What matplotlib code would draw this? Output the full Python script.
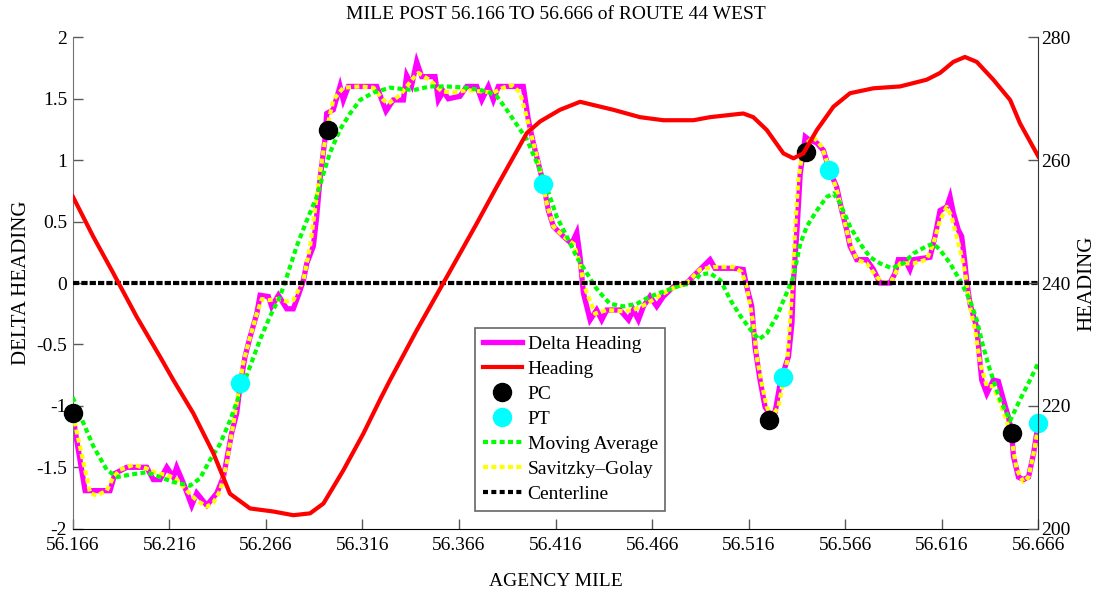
import numpy as np
import matplotlib
matplotlib.use("Agg")
import matplotlib.pyplot as plt
from matplotlib.lines import Line2D

plt.rcParams["font.family"] = ["Liberation Serif", "DejaVu Serif"]
plt.rcParams["axes.unicode_minus"] = False

# delta heading (raw)
dh_mile = [56.1660, 56.1672, 56.1724, 56.1853, 56.1879, 56.1940, 56.2043, 56.2077, 56.2112, 56.2147,
           56.2181, 56.2198, 56.2233, 56.2276, 56.2302, 56.2354, 56.2406, 56.2440, 56.2457, 56.2483,
           56.2509, 56.2526, 56.2552, 56.2578, 56.2613, 56.2630, 56.2673, 56.2690, 56.2725, 56.2768,
           56.2802, 56.2828, 56.2854, 56.2872, 56.2906, 56.2923, 56.2940, 56.2966, 56.2975, 56.3009,
           56.3044, 56.3061, 56.3087, 56.3234, 56.3282, 56.3320, 56.3372, 56.3389, 56.3415, 56.3441,
           56.3467, 56.3536, 56.3553, 56.3579, 56.3605, 56.3665, 56.3700, 56.3752, 56.3778, 56.3812,
           56.3838, 56.3864, 56.3993, 56.4019, 56.4045, 56.4080, 56.4097, 56.4123, 56.4149, 56.4200,
           56.4244, 56.4270, 56.4287, 56.4304, 56.4339, 56.4373, 56.4399, 56.4425, 56.4494, 56.4538,
           56.4563, 56.4589, 56.4615, 56.4649, 56.4684, 56.4718, 56.4770, 56.4839, 56.4908, 56.4960,
           56.4986, 56.5081, 56.5132, 56.5150, 56.5176, 56.5193, 56.5219, 56.5245, 56.5271, 56.5297,
           56.5323, 56.5349, 56.5366, 56.5384, 56.5392, 56.5410, 56.5427, 56.5453, 56.5469, 56.5513,
           56.5547, 56.5578, 56.5616, 56.5642, 56.5668, 56.5685, 56.5720, 56.5771, 56.5806, 56.5840,
           56.5892, 56.5918, 56.5935, 56.5970, 56.5995, 56.6013, 56.6099, 56.6125, 56.6151, 56.6186,
           56.6203, 56.6220, 56.6246, 56.6263, 56.6280, 56.6289, 56.6306, 56.6341, 56.6358, 56.6367,
           56.6393, 56.6427, 56.6453, 56.6479, 56.6505, 56.6522, 56.6531, 56.6557, 56.6583, 56.6609,
           56.6635, 56.6660]
dh_val = [-1.06, -1.20, -1.69, -1.69, -1.55, -1.50, -1.50, -1.60, -1.60, -1.50,
          -1.58, -1.50, -1.63, -1.81, -1.71, -1.81, -1.71, -1.58, -1.44, -1.22,
          -1.06, -0.84, -0.60, -0.44, -0.25, -0.10, -0.11, -0.19, -0.10, -0.21,
          -0.21, -0.10, 0.02, 0.16, 0.30, 0.54, 0.84, 1.17, 1.38, 1.41,
          1.60, 1.49, 1.60, 1.60, 1.40, 1.49, 1.49, 1.69, 1.61, 1.80,
          1.68, 1.68, 1.49, 1.56, 1.50, 1.52, 1.60, 1.60, 1.49, 1.60,
          1.49, 1.60, 1.60, 1.33, 1.14, 0.92, 0.81, 0.59, 0.46, 0.38,
          0.32, 0.41, 0.21, -0.08, -0.30, -0.22, -0.30, -0.22, -0.22, -0.30,
          -0.22, -0.30, -0.19, -0.11, -0.19, -0.11, -0.03, 0.00, 0.11, 0.19,
          0.12, 0.12, 0.11, -0.03, -0.19, -0.52, -0.79, -1.01, -1.07, -1.05,
          -0.82, -0.68, -0.60, -0.33, 0.02, 0.43, 0.89, 1.19, 1.17, 1.14,
          1.08, 0.92, 0.78, 0.59, 0.43, 0.30, 0.19, 0.19, 0.11, 0.00,
          0.00, 0.08, 0.19, 0.19, 0.11, 0.19, 0.21, 0.38, 0.59, 0.62,
          0.70, 0.57, 0.43, 0.38, 0.16, 0.02, -0.17, -0.36, -0.65, -0.79,
          -0.90, -0.79, -0.80, -0.95, -1.09, -1.22, -1.41, -1.58, -1.60, -1.58,
          -1.39, -1.14]

# Savitzky-Golay
sg_mile = [56.1660, 56.1750, 56.1784, 56.1836, 56.1870, 56.1905, 56.1974, 56.2043, 56.2095, 56.2147,
           56.2199, 56.2250, 56.2302, 56.2354, 56.2388, 56.2423, 56.2457, 56.2492, 56.2517, 56.2543,
           56.2578, 56.2613, 56.2639, 56.2673, 56.2716, 56.2768, 56.2802, 56.2837, 56.2854, 56.2889,
           56.2923, 56.2949, 56.2975, 56.3009, 56.3061, 56.3148, 56.3217, 56.3268, 56.3294, 56.3355,
           56.3424, 56.3450, 56.3510, 56.3571, 56.3631, 56.3700, 56.3769, 56.3838, 56.3890, 56.3933,
           56.3976, 56.4011, 56.4045, 56.4080, 56.4114, 56.4149, 56.4200, 56.4252, 56.4287, 56.4304,
           56.4322, 56.4365, 56.4425, 56.4511, 56.4563, 56.4632, 56.4701, 56.4770, 56.4839, 56.4908,
           56.4977, 56.5081, 56.5124, 56.5150, 56.5184, 56.5202, 56.5228, 56.5254, 56.5279, 56.5314,
           56.5340, 56.5360, 56.5374, 56.5388, 56.5400, 56.5417, 56.5443, 56.5495, 56.5538, 56.5581,
           56.5616, 56.5650, 56.5685, 56.5720, 56.5771, 56.5823, 56.5857, 56.5901, 56.5944, 56.6013,
           56.6082, 56.6116, 56.6151, 56.6186, 56.6211, 56.6237, 56.6272, 56.6289, 56.6306, 56.6332,
           56.6358, 56.6393, 56.6427, 56.6462, 56.6496, 56.6522, 56.6548, 56.6583, 56.6609, 56.6635,
           56.6660]
sg_val = [-1.06, -1.71, -1.73, -1.69, -1.58, -1.52, -1.48, -1.51, -1.55, -1.56,
          -1.60, -1.69, -1.77, -1.82, -1.79, -1.69, -1.47, -1.14, -0.90, -0.65,
          -0.44, -0.25, -0.13, -0.14, -0.13, -0.15, -0.14, -0.03, 0.02, 0.30,
          0.70, 0.98, 1.25, 1.49, 1.59, 1.60, 1.59, 1.49, 1.46, 1.53,
          1.67, 1.71, 1.65, 1.56, 1.55, 1.57, 1.56, 1.55, 1.59, 1.61,
          1.55, 1.35, 1.14, 0.92, 0.65, 0.46, 0.38, 0.32, 0.16, 0.00,
          -0.08, -0.25, -0.22, -0.23, -0.22, -0.17, -0.10, -0.04, 0.00, 0.11,
          0.13, 0.13, 0.09, -0.03, -0.33, -0.60, -0.82, -1.01, -1.09, -1.01,
          -0.79, -0.63, -0.30, 0.02, 0.43, 0.84, 1.11, 1.19, 1.11, 0.92,
          0.76, 0.54, 0.32, 0.19, 0.16, 0.05, 0.00, 0.02, 0.16, 0.16,
          0.19, 0.32, 0.51, 0.62, 0.54, 0.38, 0.16, 0.00, -0.19, -0.38,
          -0.65, -0.84, -0.84, -0.98, -1.12, -1.28, -1.52, -1.62, -1.58, -1.39,
          -1.17]

# moving average
ma_mile = [56.1660, 56.1715, 56.1767, 56.1836, 56.1888, 56.1957, 56.2043, 56.2112, 56.2181, 56.2267,
           56.2319, 56.2371, 56.2423, 56.2474, 56.2526, 56.2578, 56.2630, 56.2682, 56.2733, 56.2768,
           56.2820, 56.2872, 56.2923, 56.2958, 56.2992, 56.3044, 56.3096, 56.3148, 56.3217, 56.3303,
           56.3424, 56.3510, 56.3597, 56.3700, 56.3804, 56.3856, 56.3907, 56.3959, 56.4011, 56.4063,
           56.4114, 56.4166, 56.4218, 56.4270, 56.4322, 56.4365, 56.4390, 56.4442, 56.4511, 56.4580,
           56.4649, 56.4736, 56.4805, 56.4874, 56.4908, 56.4960, 56.5015, 56.5066, 56.5118, 56.5170,
           56.5213, 56.5254, 56.5306, 56.5357, 56.5392, 56.5427, 56.5461, 56.5513, 56.5564, 56.5599,
           56.5633, 56.5685, 56.5737, 56.5789, 56.5840, 56.5901, 56.5961, 56.6013, 56.6082, 56.6116,
           56.6151, 56.6203, 56.6255, 56.6306, 56.6341, 56.6375, 56.6410, 56.6462, 56.6514, 56.6565,
           56.6617, 56.6660]
ma_val = [-0.93, -1.14, -1.33, -1.52, -1.58, -1.56, -1.54, -1.58, -1.62, -1.65,
          -1.59, -1.44, -1.31, -1.12, -0.90, -0.68, -0.46, -0.27, -0.11, 0.05,
          0.30, 0.51, 0.70, 0.89, 1.06, 1.25, 1.38, 1.49, 1.55, 1.59,
          1.57, 1.60, 1.60, 1.59, 1.56, 1.52, 1.41, 1.29, 1.17, 0.98,
          0.78, 0.54, 0.38, 0.21, 0.08, -0.03, -0.08, -0.17, -0.19, -0.17,
          -0.11, -0.06, -0.02, 0.00, 0.07, 0.08, 0.02, -0.14, -0.27, -0.38,
          -0.46, -0.41, -0.27, -0.08, 0.05, 0.32, 0.46, 0.59, 0.70, 0.73,
          0.65, 0.46, 0.32, 0.21, 0.16, 0.12, 0.16, 0.24, 0.30, 0.32,
          0.27, 0.16, 0.02, -0.14, -0.30, -0.52, -0.71, -0.95, -1.12, -0.95,
          -0.79, -0.65]

# heading (right axis, degrees)
hd_mile = [56.1660, 56.1767, 56.1870, 56.1991, 56.2112, 56.2181, 56.2284, 56.2388, 56.2474, 56.2578,
           56.2699, 56.2802, 56.2889, 56.2958, 56.3061, 56.3165, 56.3251, 56.3303, 56.3441, 56.3588,
           56.3752, 56.3856, 56.4011, 56.4080, 56.4183, 56.4287, 56.4459, 56.4597, 56.4718, 56.4874,
           56.4960, 56.5132, 56.5184, 56.5254, 56.5340, 56.5392, 56.5443, 56.5513, 56.5599, 56.5685,
           56.5806, 56.5944, 56.6082, 56.6151, 56.6220, 56.6280, 56.6341, 56.6427, 56.6514, 56.6565,
           56.6660]
hd_val = [254.1, 247.5, 241.6, 234.5, 228.0, 224.2, 218.8, 212.3, 205.7, 203.3,
          202.8, 202.2, 202.5, 204.1, 209.5, 215.5, 221.0, 224.2, 232.3, 240.5,
          249.7, 255.7, 264.4, 266.3, 268.2, 269.5, 268.2, 267.0, 266.5, 266.5,
          267.0, 267.6, 267.0, 264.9, 261.1, 260.3, 261.1, 264.9, 268.7, 270.9,
          271.7, 272.0, 273.1, 274.2, 276.0, 276.8, 276.0, 273.1, 269.8, 266.0,
          260.6]

pc_mile = [56.1660, 56.2984, 56.5266, 56.5457, 56.6522]
pc_val = [-1.06, 1.246, -1.116, 1.069, -1.224]
pt_mile = [56.2526, 56.4097, 56.5336, 56.5578, 56.6660]
pt_val = [-0.812, 0.806, -0.768, 0.92, -1.138]

xticks = [56.166 + 0.05 * i for i in range(11)]
xlabels = ["%.3f" % t for t in xticks]

fig = plt.figure(figsize=(10.99, 5.95), dpi=100)
ax = fig.add_axes([0.0662, 0.1114, 0.8786, 0.8259])
ax2 = ax.twinx()

dot = (0, (1.2, 0.8))
ax.plot(dh_mile, dh_val, color="#ff00ff", lw=3.8, zorder=2, solid_joinstyle="miter")
ax.plot(sg_mile, sg_val, color="#ffff00", lw=3, ls=dot, zorder=3)
ax.plot(ma_mile, ma_val, color="#00ff00", lw=3, ls=dot, zorder=4)
ax.plot([56.166, 56.666], [0, 0], color="black", lw=3, ls=(0, (1.5, 0.5)), zorder=5)
ax.plot(pc_mile, pc_val, "o", color="black", ms=13, zorder=6, clip_on=False)
ax.plot(pt_mile, pt_val, "o", color="#00ffff", ms=13, zorder=6, clip_on=False)

ax2.plot(hd_mile, hd_val, color="#ff0000", lw=3)

ax.set_xlim(56.166, 56.666)
ax.set_ylim(-2, 2)
ax2.set_ylim(200, 280)
ax.set_xticks(xticks)
ax.set_xticklabels(xlabels)
ax.set_yticks([-2, -1.5, -1, -0.5, 0, 0.5, 1, 1.5, 2])
ax.set_yticklabels(["-2", "-1.5", "-1", "-0.5", "0", "0.5", "1", "1.5", "2"])
ax2.set_yticks([200, 220, 240, 260, 280])

for a in (ax, ax2):
    a.spines["top"].set_visible(False)
    a.tick_params(direction="in", length=7, width=1, labelsize=14, colors="0.35", labelcolor="black")
ax.spines["right"].set_visible(False)
ax.spines["left"].set_color("0.45")
ax.spines["bottom"].set_color("black")
ax2.spines["left"].set_visible(False)
ax2.spines["bottom"].set_visible(False)
ax2.spines["right"].set_color("0.2")
ax.tick_params(axis="x", pad=6)
ax.tick_params(axis="y", pad=4)
ax2.tick_params(axis="y", pad=2)

ax.set_title("MILE POST 56.166 TO 56.666 of ROUTE 44 WEST", fontsize=14, pad=13)
ax.set_xlabel("AGENCY MILE", fontsize=14, labelpad=14)
ax.set_ylabel("DELTA HEADING", fontsize=15, labelpad=4)
ax2.set_ylabel("HEADING", fontsize=15, labelpad=5)

handles = [
    Line2D([], [], color="#ff00ff", lw=3.8),
    Line2D([], [], color="#ff0000", lw=3),
    Line2D([], [], color="black", marker="o", ls="none", ms=13),
    Line2D([], [], color="#00ffff", marker="o", ls="none", ms=13),
    Line2D([], [], color="#00ff00", lw=3, ls=dot),
    Line2D([], [], color="#ffff00", lw=3, ls=dot),
    Line2D([], [], color="black", lw=3, ls=dot),
]
labels = ["Delta Heading", "Heading", "PC", "PT", "Moving Average", "Savitzky\u2013Golay", "Centerline"]
leg = ax2.legend(handles, labels, loc="lower left", bbox_to_anchor=(0.4166, 0.036),
                 borderaxespad=0, fontsize=14, fancybox=False, framealpha=1,
                 edgecolor="0.4", labelspacing=0.38, handlelength=2.0, handletextpad=0.3,
                 borderpad=0.4)
leg.get_frame().set_linewidth(1.2)

fig.savefig("out.png", dpi=100)
